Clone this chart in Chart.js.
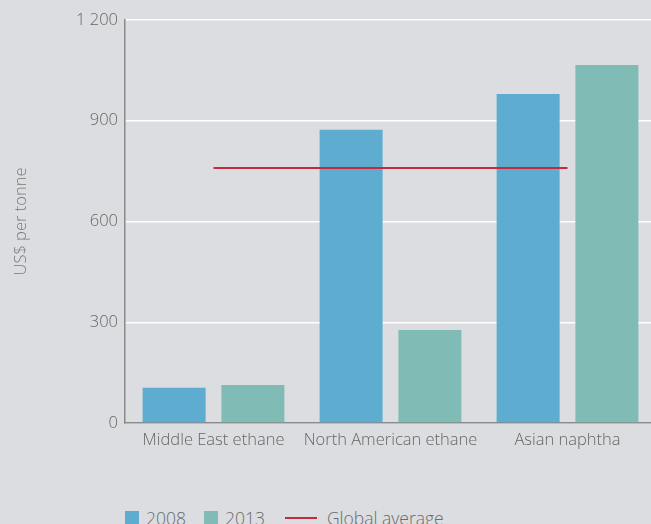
<!DOCTYPE html>
<html>
<head>
<meta charset="utf-8">
<script src="https://cdn.jsdelivr.net/npm/chart.js@4/dist/chart.umd.min.js"></script>
<style>
  html, body { margin: 0; padding: 0; background: #dcdde0; overflow: hidden; }
  #wrap { position: relative; width: 656px; height: 524px; }
  #grafico { position: absolute; left: 0; top: 0; }
  #leyenda { position: absolute; left: 125px; top: 504px; font-family: "Open Sans", sans-serif; font-weight: 300;
             font-size: 17.5px; color: #6a6a6a; white-space: nowrap; line-height: 24px; }
  #leyenda span { display: inline-block; vertical-align: middle; }
  .caja { width: 14px; height: 14px; margin-right: 7px; }
  .linea { width: 32px; height: 2px; background: #c8283c; margin-right: 10px; }
  .txt { margin-right: 18px; }
</style>
</head>
<body>
<div id="wrap">
  <canvas id="grafico" width="656" height="470"></canvas>
  <div id="leyenda"></div>
</div>
<script>
// categorias y valores (US$ por tonelada)
var categorias = ["Middle East ethane", "North American ethane", "Asian naphtha"];
var valores2008 = [105, 873, 980];
var valores2013 = [113, 277, 1066];
var promedioGlobal = [759, 759, 759];
var ticksY = [0, 300, 600, 900, 1200];

var azul = "#5eadd0";
var verde = "#80bcb5";
var rojo = "#c8283c";
var gris = "#666666";
var fuente = "'Open Sans', sans-serif";

// leyenda en html
var leyenda = document.getElementById("leyenda");
leyenda.innerHTML =
  '<span class="caja" style="background:' + azul + '"></span><span class="txt">2008</span>' +
  '<span class="caja" style="background:' + verde + '"></span><span class="txt" style="margin-right:20px">2013</span>' +
  '<span class="linea"></span><span>Global average</span>';

new Chart(document.getElementById("grafico"), {
  type: "bar",
  data: {
    labels: categorias,
    datasets: [
      {
        type: "line",
        label: "Global average",
        data: promedioGlobal,
        borderColor: rojo,
        borderWidth: 2,
        pointRadius: 0,
        fill: false,
        order: 0
      },
      {
        label: "2008",
        data: valores2008,
        backgroundColor: azul,
        categoryPercentage: 0.89,
        barPercentage: 0.8,
        order: 1
      },
      {
        label: "2013",
        data: valores2013,
        backgroundColor: verde,
        categoryPercentage: 0.89,
        barPercentage: 0.8,
        order: 1
      }
    ]
  },
  options: {
    responsive: false,
    animation: false,
    layout: { padding: { top: 20, right: 0, left: 0, bottom: 0 } },
    plugins: {
      legend: { display: false },
      tooltip: { enabled: false }
    },
    scales: {
      x: {
        grid: { display: false, drawTicks: false },
        border: { color: "#8a8a8a", width: 1.5 },
        ticks: {
          color: gris,
          padding: 7,
          maxRotation: 0,
          minRotation: 0,
          autoSkip: false,
          font: { family: fuente, size: 16.5, weight: 300 }
        },
        afterFit: function (s) { s.height = 47; }
      },
      y: {
        min: 0,
        max: 1200,
        afterBuildTicks: function (s) { s.ticks = ticksY.map(function (v) { return { value: v }; }); },
        grid: { color: "#ffffff", lineWidth: 1.5, drawTicks: false },
        border: { color: "#8a8a8a", width: 1.5 },
        ticks: {
          color: gris,
          padding: 7,
          font: { family: fuente, size: 16.5, weight: 300 },
          callback: function (v) { return v >= 1000 ? String(v).replace(/(\d)(\d{3})$/, "$1 $2") : String(v); }
        },
        title: {
          display: true,
          text: "US$ per tonne",
          color: "#777777",
          padding: { top: 11, bottom: 0 },
          font: { family: fuente, size: 16.5, weight: 300 }
        },
        afterFit: function (s) { s.width = 125; }
      }
    }
  }
});
</script>
</body>
</html>
